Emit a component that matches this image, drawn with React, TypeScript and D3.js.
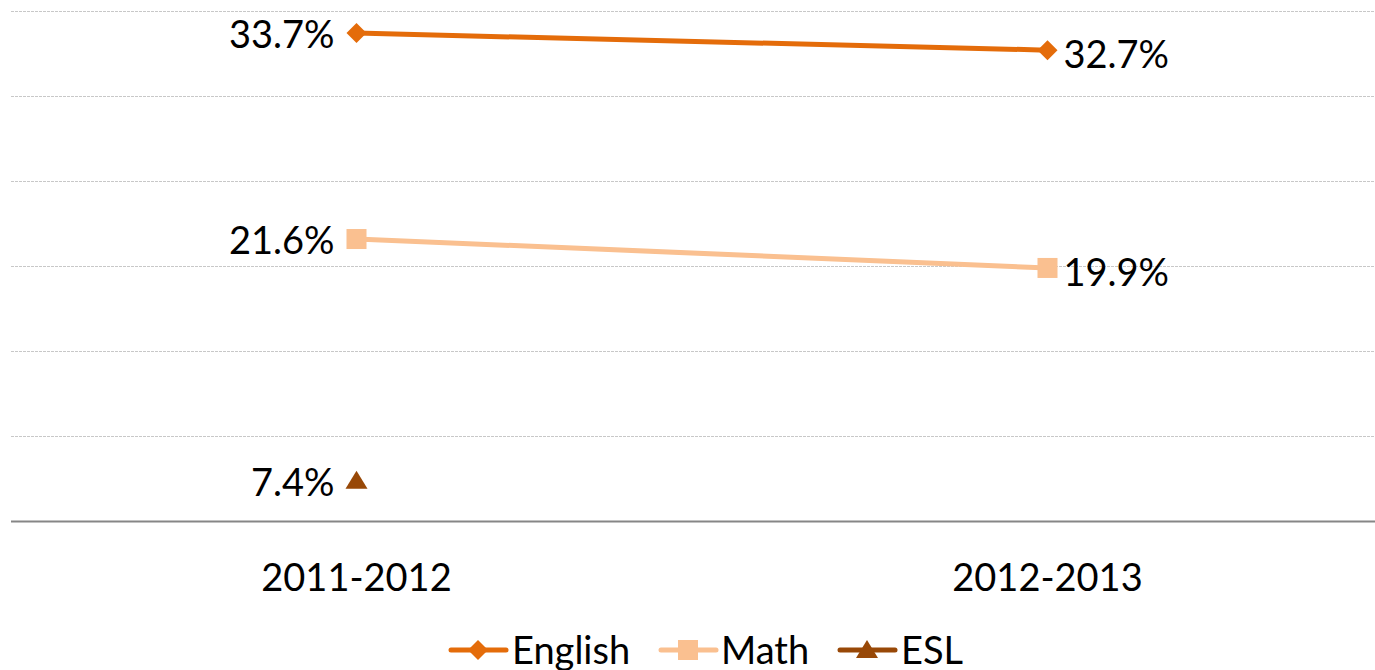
import React from "react";
import * as d3 from "d3";

const categories = ["2011-2012", "2012-2013"];
const englishValues = [33.7, 32.7];
const mathValues = [21.6, 19.9];
const eslValues: (number | null)[] = [7.4, null];
const yTicks = [5, 10, 15, 20, 25, 30, 35];

const W = 1375;
const H = 670;
const FONT = "Lato, 'Open Sans', sans-serif";

const series = [
  { name: "English", values: englishValues as (number | null)[], color: "#E46C0A", marker: "diamond" },
  { name: "Math", values: mathValues as (number | null)[], color: "#FAC090", marker: "square" },
  { name: "ESL", values: eslValues, color: "#984807", marker: "triangle" },
];

function Marker({ type, x, y, color }: { type: string; x: number; y: number; color: string }) {
  if (type === "diamond") {
    const s = 10;
    return <path d={`M${x},${y - s}L${x + s},${y}L${x},${y + s}L${x - s},${y}Z`} fill={color} />;
  }
  if (type === "square") {
    const s = 10;
    return <rect x={x - s} y={y - s} width={2 * s} height={2 * s} fill={color} />;
  }
  return <path d={`M${x},${y - 10}L${x + 11},${y + 8}L${x - 11},${y + 8}Z`} fill={color} />;
}

export default function App() {
  const x = d3.scaleBand<string>().domain(categories).range([11, 1393]);
  const cx = (c: string) => (x(c) as number) + x.bandwidth() / 2;
  const y = d3.scaleLinear().domain([5, 35]).range([521.5, 11]);

  const line = d3
    .line<[string, number | null]>()
    .defined((d) => d[1] != null)
    .x((d) => cx(d[0]))
    .y((d) => y(d[1] as number));

  const legendItems = [
    { lx: 451, tx: 512 },
    { lx: 661, tx: 721 },
    { lx: 840, tx: 901 },
  ];

  return (
    <svg
      width={W}
      height={H}
      style={{ position: "absolute", left: 0, top: 0, background: "#fff" }}
      fontFamily={FONT}
    >
      {yTicks.slice(1).map((t) => (
        <line
          key={t}
          x1={11}
          x2={W}
          y1={Math.round(y(t)) + 0.5}
          y2={Math.round(y(t)) + 0.5}
          stroke="#c8c8c8"
          strokeWidth={1}
          strokeDasharray="3 1"
        />
      ))}
      <line x1={11} x2={W} y1={y(5)} y2={y(5)} stroke="#868686" strokeWidth={2} />

      {categories.map((c) => (
        <text key={c} x={cx(c)} y={591} textAnchor="middle" fontSize={38} fill="#000">
          {c}
        </text>
      ))}

      {series.map((s) => (
        <g key={s.name}>
          <path
            d={line(categories.map((c, i) => [c, s.values[i]] as [string, number | null])) || ""}
            fill="none"
            stroke={s.color}
            strokeWidth={5}
            strokeLinecap="round"
          />
          {categories.map((c, i) =>
            s.values[i] == null ? null : (
              <g key={c}>
                <Marker type={s.marker} x={cx(c)} y={y(s.values[i] as number)} color={s.color} />
                <text
                  x={i === 0 ? cx(c) - 22 : cx(c) + 16}
                  y={y(s.values[i] as number) + (i === 0 ? 2 : 5)}
                  dy="0.35em"
                  textAnchor={i === 0 ? "end" : "start"}
                  fontSize={38}
                  fill="#000"
                >
                  {(s.values[i] as number).toFixed(1) + "%"}
                </text>
              </g>
            )
          )}
        </g>
      ))}

      {series.map((s, i) => {
        const it = legendItems[i];
        const ly = 650;
        return (
          <g key={s.name}>
            <line
              x1={it.lx}
              x2={it.lx + 55}
              y1={ly}
              y2={ly}
              stroke={s.color}
              strokeWidth={5}
              strokeLinecap="round"
            />
            <Marker type={s.marker} x={it.lx + 27} y={ly} color={s.color} />
            <text x={it.tx} y={664} fontSize={38} fill="#000">
              {s.name}
            </text>
          </g>
        );
      })}
    </svg>
  );
}
